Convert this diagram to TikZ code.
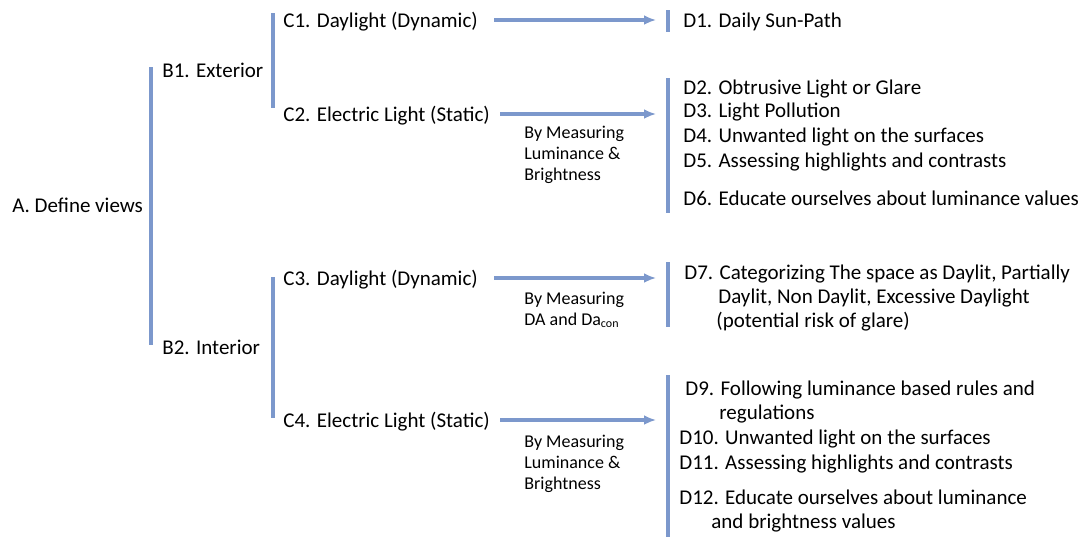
\documentclass[tikz,border=0pt]{standalone}
\usepackage{fontspec}
\setmainfont{Carlito}
\usepackage{xcolor}
\usetikzlibrary{arrows.meta}
\definecolor{barblue}{RGB}{124,152,204}

\begin{document}
\begin{tikzpicture}[x=0.5pt,y=-0.5pt,>={Latex[length=6pt,width=5pt]},
    txt/.style={anchor=base west,inner sep=0pt,align=left,font=\fontsize{10.5}{12}\selectfont},
    note/.style={anchor=base west,inner sep=0pt,align=left,font=\fontsize{9}{10.5}\selectfont},
    bar/.style={draw=barblue,line width=1.6pt},
    arr/.style={->,draw=barblue,line width=1.6pt}]
    \useasboundingbox (0,0) rectangle (1084,537);
    % level A and B
    \node[txt] (a) at (12,212) {A. Define views};
    \node[txt] (b1) at (162,77) {B1. Exterior};
    \node[txt] (b2) at (162,354) {B2. Interior};
    \draw[bar] (151,67) -- (151,345);
    % level C
    \node[txt] (c1) at (283,27) {C1. Daylight (Dynamic)};
    \node[txt] (c2) at (283,121) {C2. Electric Light (Static)};
    \node[txt] (c3) at (283,285) {C3. Daylight (Dynamic)};
    \node[txt] (c4) at (283,427) {C4. Electric Light (Static)};
    \draw[bar] (273,13) -- (273,108);
    \draw[bar] (273,277) -- (273,418);
    % brackets of level D
    \coordinate (t1) at (656,20);
    \coordinate (t2) at (656,114);
    \coordinate (t3) at (656,278);
    \coordinate (t4) at (656,420);
    \draw[bar] (668,10) -- (668,32);
    \draw[bar] (668,78) -- (668,213);
    \draw[bar] (668,262) -- (668,327);
    \draw[bar] (668,375) -- (668,537);
    % arrows
    \draw[arr] ([xshift=8pt]c1.east |- t1) -- (t1);
    \draw[arr] ([xshift=5pt]c2.east |- t2) -- (t2);
    \draw[arr] ([xshift=8pt]c3.east |- t3) -- (t3);
    \draw[arr] ([xshift=5pt]c4.east |- t4) -- (t4);
    % base = last line of a node
    \node[note] (m2) at (524,180) {By Measuring\\Luminance \&\\Brightness};
    \node[note] (m3) at (524,325) {By Measuring\\DA and Da\textsubscript{con}};
    \node[note] (m4) at (524,489) {By Measuring\\Luminance \&\\Brightness};
    % level D
    \node[txt] (d1) at (683,27) {D1. Daily Sun-Path};
    \node[txt] (d2) at (683,94) {D2. Obtrusive Light or Glare};
    \node[txt] (d3) at (683,117) {D3. Light Pollution};
    \node[txt] (d4) at (683,142) {D4. Unwanted light on the surfaces};
    \node[txt] (d5) at (683,167) {D5. Assessing highlights and contrasts};
    \node[txt] (d6) at (683,205) {D6. Educate ourselves about luminance values};
    \node[txt] (d7) at (684,327) {D7. Categorizing The space as Daylit, Partially\\
        \hspace*{17pt}Daylit, Non Daylit, Excessive Daylight\\
        \hspace*{16pt}(potential risk of glare)};
    \node[txt] (d9) at (685,419) {D9. Following luminance based rules and\\
        \hspace*{17pt}regulations};
    \node[txt] (d10) at (679,444) {D10. Unwanted light on the surfaces};
    \node[txt] (d11) at (679,469) {D11. Assessing highlights and contrasts};
    \node[txt] (d12) at (679,528) {D12. Educate ourselves about luminance\\
        \hspace*{16pt}and brightness values};
\end{tikzpicture}
\end{document}
